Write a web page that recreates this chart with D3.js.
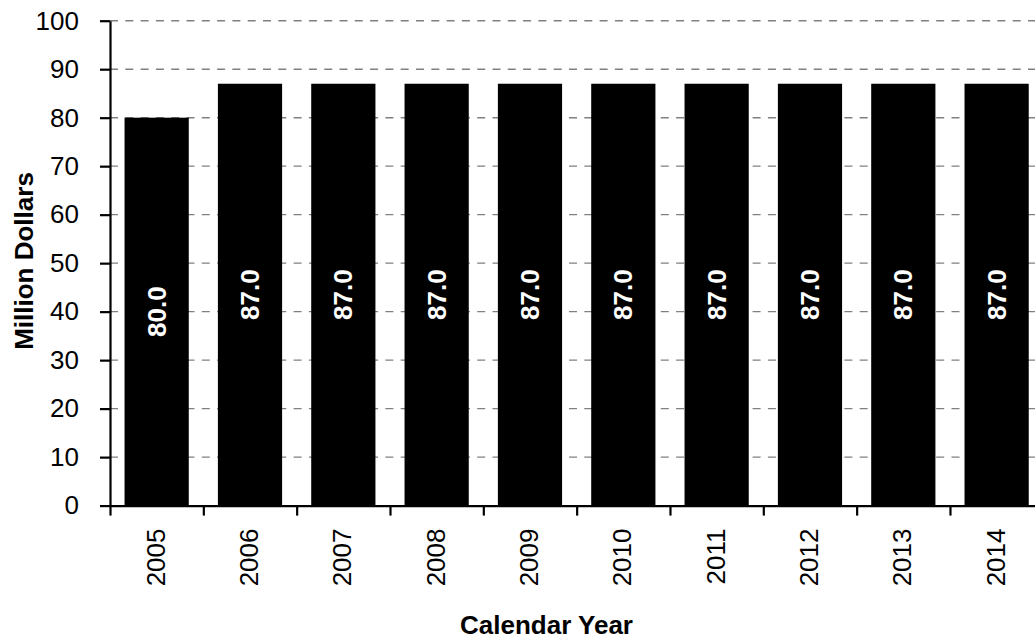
<!DOCTYPE html>
<html>
<head>
<meta charset="utf-8">
<script src="https://cdn.jsdelivr.net/npm/d3@7"></script>
<style>
  html, body { margin: 0; padding: 0; background: #fff; }
  svg { display: block; }
  text { font-family: "Liberation Sans", Arial, sans-serif; }
</style>
</head>
<body>
<script>
// Annual amounts, in million dollars, by calendar year
const years = ["2005", "2006", "2007", "2008", "2009", "2010", "2011", "2012", "2013", "2014"];
const amounts = [80.0, 87.0, 87.0, 87.0, 87.0, 87.0, 87.0, 87.0, 87.0, 87.0];
const yTicks = [0, 10, 20, 30, 40, 50, 60, 70, 80, 90, 100];

const W = 1035, H = 639;
const plotLeft = 110, plotRight = 1043.3, plotTop = 20.7, plotBottom = 505.6;

const svg = d3.select("body").append("svg")
  .attr("width", W).attr("height", H);

const x = d3.scaleBand().domain(years).range([plotLeft, plotRight]).padding(0);
const y = d3.scaleLinear().domain([0, 100]).range([plotBottom, plotTop]);
const barW = x.bandwidth() * 0.688;

// dashed horizontal gridlines
svg.append("g")
  .selectAll("line")
  .data(yTicks.filter(d => d > 0))
  .join("line")
  .attr("x1", plotLeft).attr("x2", W)
  .attr("y1", d => y(d)).attr("y2", d => y(d))
  .attr("stroke", "#808080")
  .attr("stroke-width", 1.4)
  .attr("stroke-dasharray", "8,7.3");

// bars
svg.append("g")
  .selectAll("rect")
  .data(amounts)
  .join("rect")
  .attr("x", (d, i) => x(years[i]) + (x.bandwidth() - barW) / 2)
  .attr("width", barW)
  .attr("y", d => y(d))
  .attr("height", d => y(0) - y(d))
  .attr("fill", "#000");

// value labels inside bars
svg.append("g")
  .selectAll("text")
  .data(amounts)
  .join("text")
  .attr("transform", (d, i) =>
    `translate(${x(years[i]) + x.bandwidth() / 2},${(y(d) + y(0)) / 2}) rotate(-90)`)
  .attr("text-anchor", "middle")
  .attr("dy", "0.35em")
  .attr("fill", "#fff")
  .attr("font-weight", "bold")
  .attr("font-size", 26)
  .text(d => d.toFixed(1));

// y axis
const yAxis = svg.append("g")
  .attr("transform", `translate(${plotLeft},0)`)
  .call(d3.axisLeft(y).tickValues(yTicks).tickSize(10).tickSizeOuter(0).tickPadding(21));
yAxis.select(".domain").attr("stroke", "#000").attr("stroke-width", 2.2);
yAxis.selectAll(".tick line").attr("stroke", "#000").attr("stroke-width", 2.2);
yAxis.selectAll(".tick text")
  .attr("font-size", 26)
  .attr("font-family", "Liberation Sans, Arial, sans-serif")
  .attr("fill", "#000");

// x axis: tick marks sit on category boundaries
const edge = d3.scaleLinear().domain([0, years.length]).range([plotLeft, plotRight]);
const xAxis = svg.append("g")
  .attr("transform", `translate(0,${plotBottom})`)
  .call(d3.axisBottom(edge).tickValues(d3.range(years.length + 1))
    .tickSize(10).tickSizeOuter(0).tickFormat(""));
xAxis.select(".domain").attr("stroke", "#000").attr("stroke-width", 2.2);
xAxis.selectAll(".tick line").attr("stroke", "#000").attr("stroke-width", 2.2);

// rotated year labels
svg.append("g")
  .selectAll("text")
  .data(years)
  .join("text")
  .attr("transform", d => `translate(${x(d) + x.bandwidth() / 2 - 1},528.5) rotate(-90)`)
  .attr("text-anchor", "end")
  .attr("dy", "0.35em")
  .attr("font-size", 26)
  .attr("fill", "#000")
  .text(d => d);

// axis titles
svg.append("text")
  .attr("x", 546.5).attr("y", 634)
  .attr("text-anchor", "middle")
  .attr("font-weight", "bold")
  .attr("font-size", 26)
  .text("Calendar Year");

svg.append("text")
  .attr("transform", "translate(33,261) rotate(-90)")
  .attr("text-anchor", "middle")
  .attr("font-weight", "bold")
  .attr("font-size", 26)
  .text("Million Dollars");
</script>
</body>
</html>
